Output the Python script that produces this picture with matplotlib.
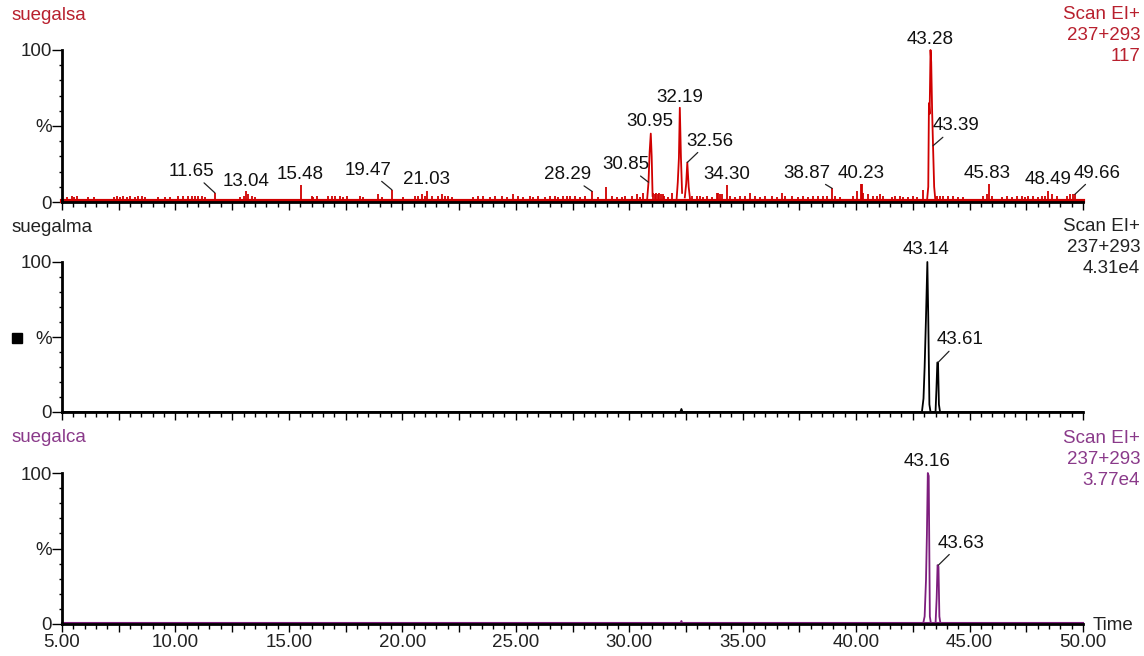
import numpy as np
import matplotlib
matplotlib.use("Agg")
import matplotlib.pyplot as plt
from matplotlib.ticker import MultipleLocator, FuncFormatter
from matplotlib.patches import Rectangle

plt.rcParams['font.family'] = ['Liberation Sans', 'DejaVu Sans']

RED = '#d00000'
RED_TXT = '#b8202e'
PURPLE = '#7d1d7d'
PURPLE_TXT = '#8a3a8a'

# --- suegalsa (top) : noise sticks ---
noise_t = [5.21, 5.43, 5.54, 5.65, 6.16, 6.43, 7.31, 7.41, 7.56, 7.70, 7.85, 8.00, 8.22, 8.36,
           8.54, 8.66, 9.22, 9.54, 9.76, 10.10, 10.35, 10.57, 10.72, 10.86, 11.01, 11.16, 11.30,
           11.74, 12.84, 13.03, 13.10, 13.18, 13.36, 13.50, 15.53, 16.00,
           16.08, 16.22, 16.74, 16.89, 17.03, 17.25, 17.40, 17.55, 18.13, 18.28, 18.94, 19.09,
           19.54, 20.04, 20.56, 20.70, 20.85, 21.00, 21.10, 21.29, 21.58, 21.73, 21.88, 22.02,
           22.17, 23.13, 23.35, 23.57, 23.86, 24.08, 24.38, 24.60, 24.89, 25.11, 25.33, 25.63,
           25.77, 25.99, 26.29, 26.51, 26.73, 26.87, 27.09, 27.24,
           27.39, 27.61, 27.83, 28.05, 28.36, 28.64, 28.97, 29.23, 29.45, 29.67, 29.81, 30.11,
           30.33, 30.47, 30.62, 31.06, 31.12, 31.18, 31.25, 31.32, 31.40, 31.47, 31.55, 31.72,
           31.87, 32.75, 32.97, 33.12, 33.26, 33.41, 33.63, 33.85, 33.92, 34.00, 34.07, 34.30,
           34.44, 34.66, 34.88, 35.10, 35.32, 35.54, 35.76, 35.98, 36.28, 36.50, 36.72, 36.86,
           37.16, 37.45, 37.67, 37.89, 38.11, 38.33, 38.55,
           38.70, 38.94, 39.07, 39.29, 39.88, 40.02, 40.20, 40.26, 40.32, 40.54, 40.76, 40.90,
           41.05, 41.20, 41.57, 41.71, 41.93, 42.08, 42.30, 42.52, 42.67, 42.96, 43.55, 43.70,
           43.84, 44.06, 44.28, 44.50, 44.72, 45.60, 45.75, 45.85, 45.97, 46.41, 46.63, 46.85,
           47.08, 47.30, 47.44, 47.59, 47.81, 48.03, 48.18, 48.32, 48.46, 48.62, 48.84, 49.28,
           49.42, 49.57, 49.64]
noise_h = [3, 4, 3, 4, 3, 3, 3, 4, 3, 4, 3, 4, 3, 4,
           4, 3, 3, 3, 3, 4, 4, 4, 4, 4, 4, 4, 3,
           6, 3, 4, 7, 5, 4, 3, 11, 4,
           3, 4, 4, 4, 4, 4, 3, 4, 4, 3, 5, 3,
           8, 3, 4, 4, 5, 4, 7, 4, 4, 5, 4, 4,
           3, 3, 4, 4, 3, 4, 4, 3, 5, 4, 3, 4,
           3, 4, 3, 4, 4, 3, 4, 4,
           4, 4, 3, 4, 7, 3, 10, 4, 3, 3, 4, 4,
           5, 3, 6, 6, 5, 6, 5, 6, 5, 5, 4, 3,
           6, 4, 4, 4, 3, 4, 3, 6, 6, 5, 5, 11,
           4, 3, 4, 4, 6, 4, 3, 4, 4, 3, 6, 4,
           4, 3, 4, 3, 4, 4, 4,
           4, 9, 4, 3, 4, 7, 12, 12, 6, 5, 4, 4,
           5, 4, 3, 4, 4, 3, 3, 4, 3, 8, 4, 4,
           4, 4, 4, 3, 3, 4, 5, 12, 4, 3, 4, 3,
           4, 4, 3, 4, 4, 3, 4, 4, 7, 5, 4, 4,
           5, 5, 5]

# main peaks in suegalsa
sa_peak1_t = [30.78, 30.85, 30.90, 30.95, 30.99, 31.03]
sa_peak1_h = [0, 13, 33, 45, 30, 4]
sa_peak2_t = [32.08, 32.14, 32.19, 32.23, 32.28, 32.33]
sa_peak2_h = [0, 13, 29, 62, 29, 6]
sa_peak3_t = [32.45, 32.51, 32.56, 32.62, 32.68]
sa_peak3_h = [3, 12, 26, 10, 2]
sa_peak4_t = [43.12, 43.18, 43.21, 43.24, 43.28, 43.31, 43.35, 43.39, 43.44, 43.50]
sa_peak4_h = [0, 10, 65, 58, 100, 92, 60, 37, 10, 0]

# --- suegalma (middle) ---
ma_t = [5.0, 32.25, 32.30, 32.35, 42.90, 42.97, 43.02, 43.08, 43.14, 43.18, 43.23, 43.28,
        43.50, 43.54, 43.58, 43.61, 43.65, 43.70, 50.0]
ma_h = [0, 0, 2, 0, 0, 9, 30, 63, 100, 63, 5, 0, 0, 15, 33, 33, 5, 0, 0]

# --- suegalca (bottom) ---
ca_t = [5.0, 32.25, 32.30, 32.35, 42.95, 43.02, 43.08, 43.12, 43.16, 43.20, 43.25, 43.30,
        43.50, 43.55, 43.59, 43.63, 43.67, 43.72, 50.0]
ca_h = [0, 0, 2, 0, 0, 5, 29, 59, 100, 98, 5, 0, 0, 17, 39, 38, 5, 0, 0]

# peak labels: text, label pos (t, %), peak pos (t, %), leader line?
sa_lab = ['11.65', '13.04', '15.48', '19.47', '21.03', '28.29', '30.85', '30.95', '32.19',
          '32.56', '34.30', '38.87', '40.23', '43.28', '43.39', '45.83', '48.49', '49.66']
sa_lab_t = [10.72, 13.10, 15.49, 18.49, 21.07, 27.28, 29.86, 30.91, 32.21,
            33.54, 34.29, 37.82, 40.24, 43.25, 44.40, 45.79, 48.46, 50.64]
sa_lab_y = [20, 13.5, 18, 21, 14.5, 18, 24.5, 53, 69,
            40, 18, 19, 19, 107, 50, 19, 14.5, 19]
sa_pk_t = [11.74, 13.10, 15.53, 19.54, 21.10, 28.36, 30.85, 30.95, 32.19,
           32.56, 34.30, 38.94, 40.23, 43.28, 43.39, 45.85, 48.46, 49.64]
sa_pk_h = [6, 7, 11, 8, 7, 7, 13, 45, 62, 26, 11, 9, 12, 100, 37, 12, 7, 5]
sa_leader = [1, 0, 0, 1, 0, 1, 1, 0, 0, 1, 0, 1, 0, 0, 1, 0, 0, 1]

ma_lab = ['43.14', '43.61']
ma_lab_t = [43.06, 44.58]
ma_lab_y = [108, 48]
ma_pk_t = [43.14, 43.61]
ma_pk_h = [100, 33]
ma_leader = [0, 1]

ca_lab = ['43.16', '43.63']
ca_lab_t = [43.11, 44.61]
ca_lab_y = [107.5, 53.5]
ca_pk_t = [43.16, 43.63]
ca_pk_h = [100, 39]
ca_leader = [0, 1]

FS = 13.5
W, H = 1144, 656
fig = plt.figure(figsize=(W / 100, H / 100), dpi=100)
fig.patch.set_facecolor('white')


def px_axes(y0, y100):
    left, right = 62, 1083
    return fig.add_axes([left / W, (H - y0) / H, (right - left) / W, (y0 - y100) / H])


def style(ax, show_xlabels):
    ax.set_xlim(5, 50)
    ax.set_ylim(0, 100)
    for s in ('top', 'right'):
        ax.spines[s].set_visible(False)
    for s in ('left', 'bottom'):
        ax.spines[s].set_linewidth(2)
        ax.spines[s].set_color('black')
    ax.set_yticks([0, 50, 100], ['0', '%', '100'])
    ax.yaxis.set_minor_locator(MultipleLocator(10))
    ax.xaxis.set_major_locator(MultipleLocator(2.5))
    ax.xaxis.set_minor_locator(MultipleLocator(0.5))
    if show_xlabels:
        ax.xaxis.set_major_formatter(FuncFormatter(
            lambda v, p: f'{v:.2f}' if abs(v / 5 - round(v / 5)) < 1e-6 else ''))
    else:
        ax.xaxis.set_major_formatter(FuncFormatter(lambda v, p: ''))
    ax.tick_params(axis='y', which='major', direction='out', length=7, width=1,
                   pad=0.5, labelsize=FS, labelcolor='#222222')
    ax.tick_params(axis='y', which='minor', direction='out', length=2.5, width=1)
    ax.tick_params(axis='x', which='major', direction='out', length=5.5, width=1,
                   pad=1.5, labelsize=FS, labelcolor='#222222')
    ax.tick_params(axis='x', which='minor', direction='out', length=3.5, width=1)


def add_labels(ax, labs, lt, ly, pt, ph, lead):
    for s, x, y, a, b, l in zip(labs, lt, ly, pt, ph, lead):
        if l:
            ax.annotate(s, xy=(a, b), xytext=(x, y), ha='center', va='center',
                        fontsize=FS, color='#111111', annotation_clip=False,
                        arrowprops=dict(arrowstyle='-', lw=0.9, color='#222222',
                                        shrinkA=0, shrinkB=0))
        else:
            ax.text(x, y, s, ha='center', va='center', fontsize=FS, color='#111111',
                    clip_on=False)


# top panel
ax1 = px_axes(202, 50)
style(ax1, False)
ax1.vlines(noise_t, 0, noise_h, color=RED, lw=1.3, clip_on=False)
ax1.plot([5, 50], [0.9, 0.9], color=RED, lw=3, clip_on=False)
for pt, ph in ((sa_peak1_t, sa_peak1_h), (sa_peak2_t, sa_peak2_h),
               (sa_peak3_t, sa_peak3_h), (sa_peak4_t, sa_peak4_h)):
    ax1.plot(pt, ph, color=RED, lw=1.3, clip_on=False)
add_labels(ax1, sa_lab, sa_lab_t, sa_lab_y, sa_pk_t, sa_pk_h, sa_leader)

# middle panel
ax2 = px_axes(412, 262)
style(ax2, False)
ax2.plot(ma_t, ma_h, color='black', lw=1.3, clip_on=False)
add_labels(ax2, ma_lab, ma_lab_t, ma_lab_y, ma_pk_t, ma_pk_h, ma_leader)

# bottom panel
ax3 = px_axes(624, 473)
style(ax3, True)
ax3.plot(ca_t, ca_h, color=PURPLE, lw=1.3, clip_on=False)
ax3.plot([5, 50], [0.8, 0.8], color=PURPLE, lw=1.5, clip_on=False)
add_labels(ax3, ca_lab, ca_lab_t, ca_lab_y, ca_pk_t, ca_pk_h, ca_leader)

# trace names and header text
fig.text(12 / W, 1 - 16 / H, 'suegalsa', color=RED_TXT, fontsize=FS, va='center')
fig.text(12 / W, 1 - 228 / H, 'suegalma', color='#222222', fontsize=FS, va='center')
fig.text(12 / W, 1 - 438 / H, 'suegalca', color=PURPLE_TXT, fontsize=FS, va='center')

fig.text(1140 / W, 1 - 6 / H, 'Scan EI+\n237+293\n117', color=RED_TXT, fontsize=FS,
         ha='right', va='top', linespacing=1.3)
fig.text(1140 / W, 1 - 218 / H, 'Scan EI+\n237+293\n4.31e4', color='#222222', fontsize=FS,
         ha='right', va='top', linespacing=1.3)
fig.text(1140 / W, 1 - 430 / H, 'Scan EI+\n237+293\n3.77e4', color=PURPLE_TXT, fontsize=FS,
         ha='right', va='top', linespacing=1.3)
fig.text(1093 / W, 1 - 626 / H, 'Time', color='#222222', fontsize=FS, va='center')

fig.patches.append(Rectangle((12 / W, 1 - 343 / H), 10 / W, 10 / H, transform=fig.transFigure,
                             color='black', figure=fig))

fig.savefig('out.png', dpi=100, facecolor='white')
